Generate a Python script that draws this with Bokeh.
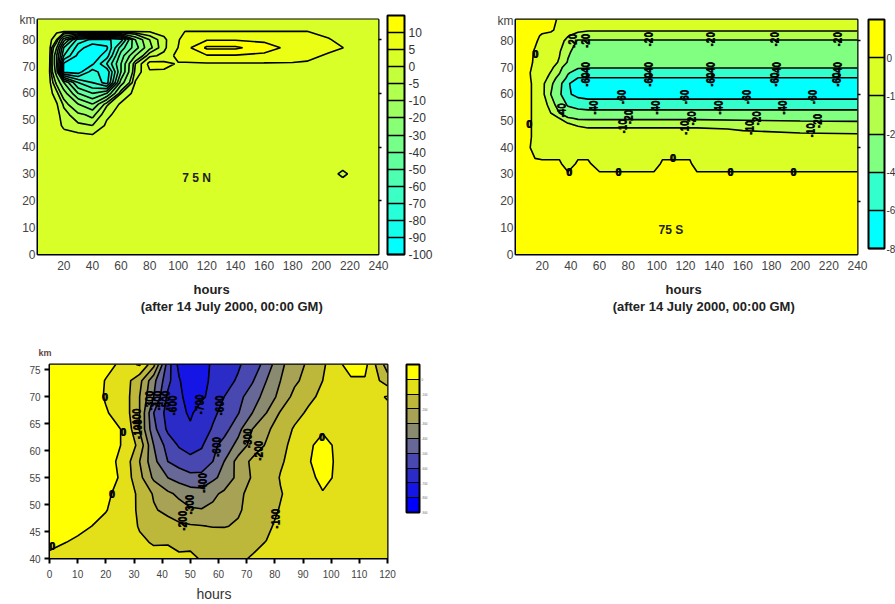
import numpy as np
from math import pi
from bokeh.plotting import figure
from bokeh.layouts import column, row
from bokeh.models import (ColorBar, LinearColorMapper, FixedTicker, LinearAxis, Label, Title,
                          Range1d, ColumnDataSource)
from bokeh.core.properties import value
from bokeh.embed import file_html
from bokeh.resources import INLINE

FONT = "Liberation Sans"

# ---------- Panel 1: 75 N ----------
n_hours = [1,10,15,20,30,40,50,60,70,80,90,100,105,120,140,160,180,190,205,215,225,240]
n_km = [0,26,30,34,40,44,48,52,56,60,64,68,71,74,77,80,83,85,88]
n_z = [
 [2,2,2,2,2,2,2,2,2,2,2,2,2,2,2,2,2,2,2,2,2,2],
 [2,2,2,2,2,2,2,2,2,2,2,2,2,2,2,2,2,2,2,2,2,2],
 [2,2,2,2,2,2,2,2,2,2,2,2,2,2,2,2,2,2,2,-1,2,2],
 [2,2,2,2,2,2,2,2,2,2,2,2,2,2,2,2,2,2,2,2,2,2],
 [2,2,2,2,2,2,2,2,2,2,2,2,2,2,2,2,2,2,2,2,2,2],
 [2,2,2,2,2,1,2,2,2,2,2,2,2,2,2,2,2,2,2,2,2,2],
 [2,2,2,-1,-4,-5,1,2,2,2,2,2,2,2,2,2,2,2,2,2,2,2],
 [2,2,2,-3,-8,-12,-1,2,2,2,2,2,2,2,2,2,2,2,2,2,2,2],
 [2,2,0.5,-6,-20,-30,-6,1,2,2,2,2,2,2,2,2,2,2,2,2,2,2],
 [2,2,-3,-15,-40,-50,-40,-5,2,2,2,2,2,2,2,2,2,2,2,2,2,2],
 [2,1.5,-12,-30,-60,-70,-85,-25,0.5,2,2,2,2,2,2,2,2,2,2,2,2,2],
 [2,0.3,-25,-93,-95,-75,-88,-40,-3,4.3,4.3,2.5,2,2,2,2,2,2,2,2,2,2],
 [2,1,-30,-92,-95,-92,-70,-40,-5,7,6.5,4.5,4.5,4.5,4.5,4.5,4.5,4.5,2,2,2,2],
 [2,1.5,-30,-70,-93,-97,-85,-45,-20,-1,1,7,7,9.5,9.5,9,7.5,6,4.5,2,2,2],
 [2,2,-20,-60,-85,-97,-92,-55,-35,-12,-1,5.1,8,16,16,12,8.5,7,6,5.1,2,2],
 [2,2,-5,-35,-75,-82,-82,-75,-30,-10,-1,4.5,7.5,9.5,9.5,9,7.5,7,5.5,3,2,2],
 [2,2,1,0.3,0.3,0.3,0.3,0.3,0.3,0.3,1.5,4,5.1,5.1,5.1,5.1,5.1,5.1,3,2,2,2],
 [2,2,2,2,2,2,2,2,2,2,2,2,2,2,2,2,2,2,2,2,2,2],
 [2,2,2,2,2,2,2,2,2,2,2,2,2,2,2,2,2,2,2,2,2,2],
]
n_levels = [-100,-90,-80,-70,-60,-50,-40,-30,-20,-10,-5,0,5,10,15,20]
n_colors = ["#00FFFF","#14FFEB","#27FFD8","#3BFFC4","#4EFFB1","#62FF9D","#76FF89",
            "#89FF76","#9DFF62","#B1FF4E","#C4FF3B","#D8FF27","#EBFF14","#FFFF00","#FFFF00"]
n_bar_labels = ["-100","-90","-80","-70","-60","-50","-40","-30","-20","-10","-5","0","5","10"]

# ---------- Panel 2: 75 S ----------
s_hours = [1,10,15,20,26,32,38,45,52,60,75,98,104,123,128,160,200,240]
s_km = [0,26,30,34,40,44,47,49,51,53,56,60,64,66,68,70,72,76,80,82,84,88]
s_z = [
 [5,5,5,5,5,5,5,5,5,5,5,5,5,5,5,5,5,5],
 [3,3,3,3,3,3,3,3,3,3,3,3,3,3,3,3,3,3],
 [3,3,3,3,3,3,1,3,3,1,1,1,3,3,1,1,1,1],
 [3,3,1,1,1,1,-3,1,1,-3,-3,-3,1,1,-3,-3,-3,-3],
 [3,1,-2,-3,-3,-3,-4,-3,-3,-4,-4,-4,-3,-3,-4,-4,-4,-4],
 [3,1,-1,-4,-5,-5,-5,-6,-6,-6,-7,-7,-7,-7,-7,-8,-9,-9],
 [3,1,-1,-5,-6,-7,-7,-8,-9,-9,-9,-9,-9,-9,-9,-10.5,-11,-11.5],
 [3,1,-1,-6,-8,-9,-9.5,-12,-14,-14,-14,-14,-14,-14,-14,-15,-16,-17],
 [3,1,-1,-7,-6,-10,-18,-22,-22,-22,-22,-22,-22,-22,-22,-23,-24,-24],
 [3,1,-1,-8,-10,-20,-30,-33,-35,-35,-35,-35,-35,-35,-35,-35,-35,-35],
 [3,1,-1,-7,-12,-28,-42,-47,-48,-48,-48,-48,-48,-48,-48,-48,-48,-48],
 [3,1,-1,-7,-20,-36,-57,-66,-70,-70,-70,-70,-70,-70,-70,-70,-70,-70],
 [3,1,-1,-8,-16,-33,-58,-70,-70,-70,-70,-70,-70,-70,-70,-70,-70,-70],
 [3,1,-1.5,-6,-13,-25,-45,-61,-61,-61,-61,-61,-61,-61,-61,-61,-61,-61],
 [3,1,-2,-5,-10.5,-19,-38,-50,-50,-50,-50,-50,-50,-50,-50,-50,-50,-50],
 [3,1,-1,-3,-8,-15,-30,-38,-39,-39,-39,-39,-39,-39,-39,-39,-39,-39],
 [3,1,-0.5,-2,-6,-11,-21,-30,-36,-36,-36,-36,-36,-36,-36,-36,-36,-36],
 [3,1,-0.3,-1.5,-4,-9,-18,-25,-28,-28,-28,-28,-28,-28,-28,-28,-28,-28],
 [3,2,0.5,-1,-3,-5,-14,-21,-21,-21,-21,-21,-21,-21,-21,-21,-21,-21],
 [3,2,1,-0.5,-1,-3,-9,-15,-15,-15,-15,-15,-15,-15,-15,-15,-15,-15],
 [3,3,2,1,0.5,-1,-2,-7,-9,-9,-9,-9,-9,-9,-9,-9,-9,-9],
 [3,3,3,3,2,-1,-2,-3,-5,-5,-5,-5,-5,-5,-5,-5,-5,-5],
]
s_levels = [-80,-60,-40,-20,-10,0,10]
s_colors = ["#00FFFF","#33FFCC","#80FF80","#B3FF4C","#D9FF26","#FFFF00"]
s_bar_labels = ["-8","-6","-4","-2","-1","0"]
s_tag_h = [38.6,73,151,195,111,10.7,15, 94,137,182,226,50,41, 50,94,137,183,226, 50,94,137,182,225,
           75,119,162.5,208, 55.5,99,143,187,33, 80,124,169,212, 76,119,164,207]
s_tag_km = [31,31,31,31,36,49,75, 80.6,80.6,80.6,80.6,80,80, 69.4,69.4,69.4,69.4,69.4, 65.5,65.5,65.5,65.5,65.5,
            59,59,59,59, 55,55,55,55,54, 51.5,51,51,50, 48,47.5,47.5,46.5]
s_tag_text = ["0","0","0","0","0","0","0", "-20","-20","-20","-20","-20","-20",
              "-40","-40","-40","-40","-40", "-60","-60","-60","-60","-60",
              "-60","-60","-60","-60", "-40","-40","-40","-40","-40",
              "-20","-20","-20","-20", "-10","-10","-10","-10"]

# ---------- Panel 3 ----------
m_hours = [0,10,20,27,32,37,42,46,50,54,58,62,67,72,77,82,87,92,97,102,107,112,120]
m_km = [40,43,46,49,52,55,58,61,64,67,70,73,76]
m_z = [
 [-30,-40,-50,-60,-70,-80,-85,-90,-95,-102,-120,-125,-110,-95,-85,-70,-55,-50,-40,-30,-30,-30,-30],
 [30,-20,-40,-60,-90,-105,-103,-115,-106,-115,-130,-140,-135,-115,-98,-65,-50,-40,-35,-30,-30,-30,-30],
 [100,30,-30,-70,-105,-130,-160,-180,-190,-196,-205,-205,-190,-150,-115,-80,-55,-40,-35,-30,-30,-30,-30],
 [100,100,5,-60,-115,-190,-225,-260,-290,-295,-280,-250,-210,-170,-130,-95,-60,-50,-40,-30,-30,-30,-30],
 [100,100,20,-50,-120,-210,-280,-320,-350,-360,-320,-280,-220,-170,-140,-105,-70,-50,-5,-30,-30,-30,-30],
 [100,100,80,-50,-170,-320,-400,-440,-470,-470,-420,-370,-270,-190,-150,-95,-70,-20,20,-10,-30,-30,-30],
 [100,100,50,-50,-200,-370,-500,-540,-570,-560,-500,-400,-260,-180,-150,-110,-70,-5,30,-10,-30,-30,-30],
 [100,100,60,-20,-130,-400,-540,-610,-640,-610,-530,-460,-370,-260,-190,-130,-70,-10,20,-10,-30,-30,-30],
 [100,100,60,-20,-210,-470,-620,-660,-690,-650,-590,-540,-430,-300,-220,-150,-90,-20,-8,-30,-30,-30,-30],
 [100,100,10,-60,-200,-500,-640,-680,-710,-670,-620,-570,-505,-400,-300,-190,-130,-85,-40,-30,-30,-30,-20],
 [100,100,-10,-60,-200,-400,-620,-680,-740,-710,-680,-600,-530,-450,-360,-270,-170,-120,-80,-30,-30,-30,5],
 [100,100,-5,-60,-170,-370,-570,-690,-780,-730,-680,-630,-590,-510,-400,-300,-220,-160,-100,-40,-10,-10,-150],
 [100,100,30,-30,10,-170,-550,-730,-790,-750,-680,-640,-610,-560,-460,-320,-250,-180,-120,-20,30,30,-250],
]
m_levels = [-900,-800,-700,-600,-500,-400,-300,-200,-100,0,200]
m_colors = ["#0000FF","#1515E5","#2B2BC8","#4848B0","#686898","#8A8A70","#A8A255","#BDB83A","#E3E01A","#FFFF00"]
m_bar_labels = ["-900","-800","-700","-600","-500","-400","-300","-200","-100","0"]
m_tag_h = [19.5,0.8,22,26,30.6,31,35.5,38,41,43.6,53,60,59,70,74,54,49.5,47,80,96.6]
m_tag_km = [70,42.3,52,63.5,66,64,69.3,69.3,69.3,68.4,68.6,68.4,60.7,62.3,60,54,50,47,47.4,62.5]
m_tag_text = ["0","0","0","0","-100","-100","-300","-400","-500","-600","-700","-600","-600",
              "-300","-200","-400","-300","-200","-100","0"]

n_ticks_x = [20,40,60,80,100,120,140,160,180,200,220,240]
ticks_y = [0,10,20,30,40,50,60,70,80]
m_ticks_x = [0,10,20,30,40,50,60,70,80,90,100,110,120]
m_ticks_y = [40,45,50,55,60,65,70,75]
side_ticks = [20,40,60,80]


def make_fig(w, h, left, right, top, bottom, xr, yr, xticks, yticks, size, sx, sy):
    p = figure(width=w, height=h, min_border_left=left, min_border_right=right,
               min_border_top=top, min_border_bottom=bottom,
               x_range=Range1d(*xr), y_range=Range1d(*yr),
               output_backend="svg", toolbar_location=None)
    p.grid.visible = False
    p.outline_line_color = "black"
    p.outline_line_width = 2
    p.xaxis.ticker = FixedTicker(ticks=xticks)
    p.yaxis.ticker = FixedTicker(ticks=yticks)
    for ax, standoff in ((p.xaxis[0], sx), (p.yaxis[0], sy)):
        ax.major_label_text_font = FONT
        ax.major_label_text_font_size = size
        ax.major_label_text_color = "#444444"
        ax.axis_line_color = "black"
        ax.minor_tick_line_color = None
        ax.major_tick_in = 0
        ax.major_tick_out = 0
        ax.major_label_standoff = standoff
    return p


def side_axis(p):
    ax = LinearAxis(ticker=FixedTicker(ticks=side_ticks),
                    major_label_overrides={t: "" for t in side_ticks})
    ax.axis_line_color = None
    ax.minor_tick_line_color = None
    ax.major_tick_in = 0
    ax.major_tick_out = 3
    ax.major_tick_line_width = 1.5
    p.add_layout(ax, "right")


def bar(p, colors, labels, x, y, w, h, size, standoff, color="#333333", tick_w=1.5):
    n = len(colors)
    mapper = LinearColorMapper(palette=colors, low=0, high=n)
    cb = ColorBar(color_mapper=mapper, location=(x, y), width=w, height=h, padding=0, margin=0,
                  ticker=FixedTicker(ticks=list(range(len(labels)))),
                  major_label_overrides={i: t for i, t in enumerate(labels)},
                  major_label_text_font=FONT, major_label_text_font_size=size,
                  major_label_text_color=color, major_tick_in=w, major_tick_out=0,
                  major_tick_line_color="black", major_tick_line_width=tick_w,
                  minor_tick_line_color=None, bar_line_color="black", bar_line_width=2,
                  label_standoff=standoff, background_fill_color=None, border_line_color=None)
    p.add_layout(cb)


def label(p, x, y, text, size="12px", style="bold", color="#222222", side=None):
    # x, y are canvas pixels of this figure, from its top-left corner
    lab = Label(x=x, y=y, x_units="canvas", y_units="canvas", text=text, text_font=FONT,
                text_font_size=size, text_font_style=style, text_color=color,
                text_align="center", text_baseline="middle", level="overlay")
    if side:
        p.add_layout(lab, side)
    else:
        p.add_layout(lab)


def title(p, side, offset, standoff, text, size="13px", style="bold", color="#222222"):
    p.add_layout(Title(text=text, align="left", offset=offset, standoff=standoff, text_font=FONT,
                       text_font_size=size, text_font_style=style, text_color=color), side)


def tags(p, xs, ys, texts, size, double=True):
    angles = [0 if t == "0" else pi / 2 for t in texts]
    src = ColumnDataSource(dict(x=xs, y=ys, t=texts, a=angles))
    for off in ([0, 1] if double else [0]):
        p.text("x", "y", text="t", source=src, angle="a", x_offset=off, text_font=value(FONT),
               text_font_size=value(size), text_font_style="bold", text_color="black",
               text_align="center", text_baseline="middle")


def km_tick(p, km):
    ax = p.yaxis[0]
    ax.ticker = FixedTicker(ticks=ticks_y + [km])
    ax.major_label_overrides = {km: "km"}


LW = 1.6

# ---- 75 N ----
p1 = make_fig(480, 330, 37, 102, 19, 74, (1.6, 240), (0, 87.5), n_ticks_x, ticks_y, "12px", 6, 2)
p1.contour(n_hours, n_km, np.array(n_z, dtype=float), n_levels, fill_color=n_colors,
           line_color="black", line_width=LW)
side_axis(p1)
km_tick(p1, 87.4)
bar(p1, n_colors[:14], n_bar_labels, 350, 0, 17, 239, "12px", 4)
title(p1, "below", 156, 14, "hours")
label(p1, 233, 306, "(after 14 July  2000, 00:00 GM)", size="13px", side="below")
label(p1, 196, 177, "7 5 N")

# ---- 75 S ----
p2 = make_fig(415, 330, 35, 38, 19, 76, (1.4, 240), (0, 88), n_ticks_x, ticks_y, "12px", 6, 2)
p2.contour(s_hours, s_km, np.array(s_z, dtype=float), s_levels, fill_color=s_colors,
           line_color="black", line_width=LW)
side_axis(p2)
km_tick(p2, 87.4)
tags(p2, s_tag_h, s_tag_km, s_tag_text, "10px")
bar(p2, s_colors, s_bar_labels, 353, 6, 16, 229, "10px", 2)
title(p2, "below", 150, 14, "hours")
label(p2, 705 - 480, 306, "(after 14 July  2000, 00:00 GM)", size="13px", side="below")
label(p2, 672 - 480, 229, "75  S")

# ---- third panel ----
p3 = make_fig(480, 274, 49, 93, 34, 46, (0, 120), (40, 76), m_ticks_x, m_ticks_y, "10px", 6, 4)
for ax in (p3.xaxis[0], p3.yaxis[0]):
    ax.major_tick_out = 5
    ax.major_tick_line_width = 2
    ax.major_tick_line_color = "black"
p3.contour(m_hours, m_km, np.array(m_z, dtype=float), m_levels, fill_color=m_colors,
           line_color="black", line_width=LW)
tags(p3, m_tag_h, m_tag_km, m_tag_text, "10px")
bar(p3, m_colors, m_bar_labels, 357, 46, 13, 148, "3px", 2, color="#666666", tick_w=1.2)
title(p3, "above", -11, 14, "km", size="9px", color="#664444")
title(p3, "below", 147, 6, "hours", size="14px", style="normal", color="#333333")

layout = column(row(p1, p2), row(p3))
open("out.html", "w").write(file_html(layout, INLINE))
